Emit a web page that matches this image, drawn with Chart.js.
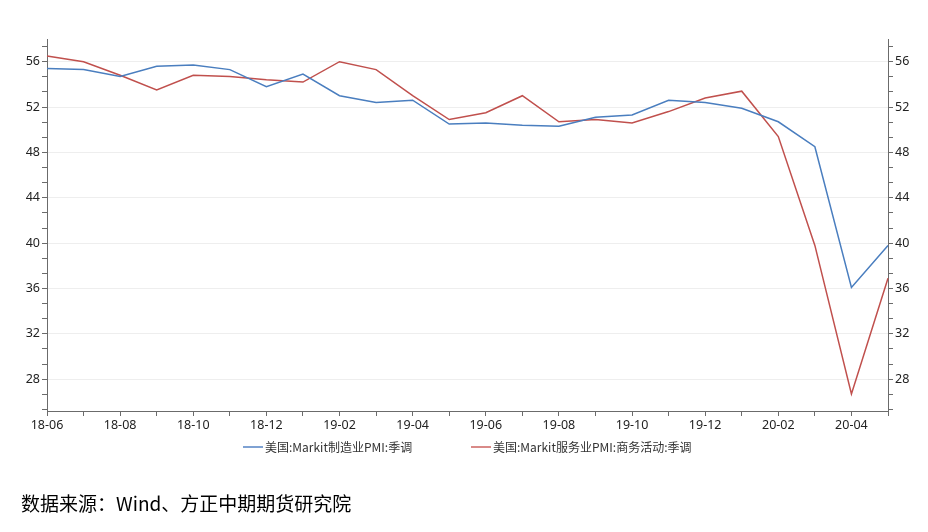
<!DOCTYPE html>
<html>
<head>
<meta charset="utf-8">
<script src="https://cdn.jsdelivr.net/npm/chart.js@4/dist/chart.umd.min.js"></script>
<style>
  html, body { margin: 0; padding: 0; background: #fff; overflow: hidden; }
  #wrap { position: relative; width: 928px; height: 532px; }
  #c { position: absolute; left: 0; top: 0; }
  .lg { position: absolute; top: 439px; height: 16px; font: 12px "Noto Sans CJK SC", "Noto Sans", sans-serif; color: #333; line-height: 16px; white-space: nowrap; }
  .lg i { position: absolute; left: 0; top: 7px; width: 20px; height: 2px; }
  .lg span { position: absolute; left: 22px; top: 0; }
  #src { position: absolute; left: 21px; top: 491px; font: 19px "Noto Sans CJK SC", sans-serif; color: #000; line-height: 24px; white-space: nowrap; }
</style>
</head>
<body>
<div id="wrap">
  <canvas id="c" width="928" height="532"></canvas>
  <div class="lg" style="left:243px"><i style="background:#7fa2d3"></i><span>美国:Markit制造业PMI:季调</span></div>
  <div class="lg" style="left:471px"><i style="background:#d98a88"></i><span>美国:Markit服务业PMI:商务活动:季调</span></div>
  <div id="src">数据来源：Wind、方正中期期货研究院</div>
</div>
<script>
const months = ["18-06","18-07","18-08","18-09","18-10","18-11","18-12",
  "19-01","19-02","19-03","19-04","19-05","19-06","19-07","19-08","19-09","19-10","19-11","19-12",
  "20-01","20-02","20-03","20-04","20-05"];
const manufacturingPMI = [55.4,55.3,54.7,55.6,55.7,55.3,53.8,54.9,53.0,52.4,52.6,50.5,50.6,50.4,50.3,51.1,51.3,52.6,52.4,51.9,50.7,48.5,36.1,39.8];
const servicesPMI = [56.5,56.0,54.8,53.5,54.8,54.7,54.4,54.2,56.0,55.3,53.0,50.9,51.5,53.0,50.7,50.9,50.6,51.6,52.8,53.4,49.4,39.8,26.7,36.9];
const yMin = 25.2, yMax = 58;

const blue = '#4a7ebf', red = '#c0504d', axisCol = '#6b6b6b';
const font = { family: '"Noto Sans", "Noto Sans CJK SC", sans-serif', size: 12.5 };

function isMajor(v) { return Math.abs(v / 4 - Math.round(v / 4)) < 1e-6; }
function buildTicks(scale) {
  const t = [];
  for (let k = 0; ; k++) {
    const v = 28 + (k - 2) * 4 / 3;
    if (v > yMax) break;
    if (v >= yMin) t.push({ value: Math.round(v * 1e6) / 1e6 });
  }
  scale.ticks = t;
}
function yScale(pos, width) {
  return {
    type: 'linear', position: pos, min: yMin, max: yMax,
    afterBuildTicks: buildTicks,
    afterFit: s => { s.width = width; },
    border: { color: axisCol, width: 1 },
    grid: {
      drawOnChartArea: pos === 'left',
      color: ctx => (ctx.tick && isMajor(ctx.tick.value)) ? '#eeeeee' : 'rgba(0,0,0,0)',
      tickColor: axisCol, tickLength: 5, lineWidth: 1
    },
    ticks: {
      color: '#222', font, padding: 2, autoSkip: false,
      callback: v => isMajor(v) ? String(Math.round(v)) : ''
    }
  };
}

new Chart(document.getElementById('c'), {
  type: 'line',
  data: {
    labels: months,
    datasets: [
      { label: '美国:Markit制造业PMI:季调', data: manufacturingPMI, borderColor: blue, backgroundColor: blue,
        borderWidth: 1.5, pointRadius: 0, tension: 0, yAxisID: 'y' },
      { label: '美国:Markit服务业PMI:商务活动:季调', data: servicesPMI, borderColor: red, backgroundColor: red,
        borderWidth: 1.5, pointRadius: 0, tension: 0, yAxisID: 'y1' }
    ]
  },
  options: {
    responsive: false, animation: false,
    layout: { padding: { top: 39, bottom: 91, left: 0, right: 0 } },
    plugins: { legend: { display: false }, tooltip: { enabled: false } },
    scales: {
      x: {
        type: 'category', offset: false,
        afterFit: s => { s.height = 30; },
        border: { color: axisCol, width: 1 },
        grid: { drawOnChartArea: false, tickColor: axisCol, tickLength: 5 },
        ticks: { color: '#222', font, autoSkip: false, maxRotation: 0, padding: 2,
          callback: (v, i) => i % 2 === 0 ? months[i] : '' }
      },
      y: yScale('left', 47),
      y1: yScale('right', 40)
    }
  }
});
</script>
</body>
</html>
